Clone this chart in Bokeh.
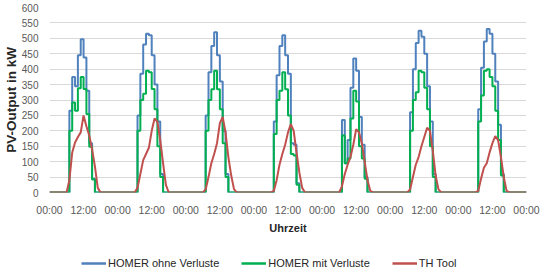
from bokeh.plotting import figure
from bokeh.layouts import column
from bokeh.models import Range1d, FixedTicker, Legend, LegendItem
from bokeh.embed import file_html
from bokeh.resources import INLINE

# hourly values, 7 days x 24 h (+ final midnight point)
homer_ohne = [
    0,0,0,0,0,0,0,265,375,345,445,497,438,330,160,45,0,0,0,0,0,0,0,0,
    0,0,0,0,0,0,0,250,385,480,515,510,445,350,230,60,0,0,0,0,0,0,0,0,
    0,0,0,0,0,0,0,250,390,475,520,445,360,200,60,0,0,0,0,0,0,0,0,0,
    0,0,0,0,0,0,0,230,380,475,510,445,385,160,155,30,0,0,0,0,0,0,0,0,
    0,0,0,0,0,0,0,235,95,170,340,435,395,245,155,50,0,0,0,0,0,0,0,0,
    0,0,0,0,0,0,0,260,400,485,525,505,450,345,230,60,0,0,0,0,0,0,0,0,
    0,0,0,0,0,0,0,270,405,490,530,515,450,360,220,60,0,0,0,0,0,0,0,0,
    0,
]
homer_mit = [
    0,0,0,0,0,0,0,200,292,265,338,375,336,255,148,42,0,0,0,0,0,0,0,0,
    0,0,0,0,0,0,0,200,300,320,395,390,336,270,150,50,0,0,0,0,0,0,0,0,
    0,0,0,0,0,0,0,200,300,335,395,335,270,160,50,0,0,0,0,0,0,0,0,0,
    0,0,0,0,0,0,0,190,300,330,390,335,250,125,120,25,0,0,0,0,0,0,0,0,
    0,0,0,0,0,0,0,185,95,110,240,330,295,150,110,45,0,0,0,0,0,0,0,0,
    0,0,0,0,0,0,0,200,300,325,395,390,340,270,150,50,0,0,0,0,0,0,0,0,
    0,0,0,0,0,0,0,230,315,395,400,375,345,265,170,55,0,0,0,0,0,0,0,0,
    0,
]
th_tool = [
    0,0,0,0,0,0,0,40,130,162,180,195,250,215,185,140,85,15,0,0,0,0,0,0,
    0,0,0,0,0,0,0,15,60,105,125,145,200,240,230,170,95,25,0,0,0,0,0,0,
    0,0,0,0,0,0,0,10,50,95,125,160,225,245,195,115,55,10,0,0,0,0,0,0,
    0,0,0,0,0,0,0,5,40,90,125,155,195,222,200,130,65,15,0,0,0,0,0,0,
    0,0,0,0,0,0,0,20,60,90,115,155,205,195,160,100,40,5,0,0,0,0,0,0,
    0,0,0,0,0,0,0,10,50,90,115,150,180,210,200,135,55,10,0,0,0,0,0,0,
    0,0,0,0,0,0,0,5,45,80,95,130,160,183,170,115,50,5,0,0,0,0,0,0,
    0,
]
hours = list(range(len(homer_ohne)))

x_ticks = [0, 12, 24, 36, 48, 60, 72, 84, 96, 108, 120, 132, 144, 156, 168]
x_tick_labels = ["00:00", "12:00", "00:00", "12:00", "00:00", "12:00", "00:00", "12:00",
                 "00:00", "12:00", "00:00", "12:00", "00:00", "12:00", "00:00"]
y_ticks = [0, 50, 100, 150, 200, 250, 300, 350, 400, 450, 500, 550, 600]

series_names = ["HOMER ohne Verluste", "HOMER mit Verluste", "TH Tool"]
series_values = [homer_ohne, homer_mit, th_tool]
colors = ["#4F81BD", "#00B050", "#C0504D"]

FONT = "Liberation Sans"

p = figure(width=546, height=248, x_range=Range1d(0, 168), y_range=Range1d(0, 600),
           output_backend="svg", toolbar_location=None,
           min_border_left=48, min_border_right=20, min_border_top=7, min_border_bottom=56)
p.outline_line_color = None
p.background_fill_color = "white"
p.border_fill_color = "white"

# axes
p.xaxis.ticker = FixedTicker(ticks=x_ticks)
p.xaxis.major_label_overrides = {t: l for t, l in zip(x_ticks, x_tick_labels)}
p.yaxis.ticker = FixedTicker(ticks=y_ticks)
for ax in (p.xaxis, p.yaxis):
    ax.axis_line_color = None
    ax.major_tick_line_color = None
    ax.minor_tick_line_color = None
    ax.major_tick_out = 0
    ax.major_tick_in = 0
    ax.major_label_text_font = FONT
    ax.major_label_text_color = "#595959"
    ax.axis_label_text_font = FONT
    ax.axis_label_text_font_style = "bold"
    ax.axis_label_text_color = "#262626"
p.xaxis.major_label_text_font_size = "10.5px"
p.yaxis.major_label_text_font_size = "10px"
p.xaxis.major_label_standoff = 11
p.yaxis.major_label_standoff = 11
p.xaxis.axis_label = "Uhrzeit"
p.yaxis.axis_label = "PV-Output in kW"
p.xaxis.axis_label_text_font_size = "11px"
p.yaxis.axis_label_text_font_size = "13.5px"
p.xaxis.axis_label_standoff = 3
p.yaxis.axis_label_standoff = 0

p.xgrid.visible = False
p.ygrid.ticker = FixedTicker(ticks=y_ticks)
p.ygrid.grid_line_color = "#D9D9D9"
p.ygrid.grid_line_width = 1

p.step(hours, homer_ohne, mode="after", line_color=colors[0], line_width=2)
p.step(hours, homer_mit, mode="after", line_color=colors[1], line_width=2)
p.line(hours, th_tool, line_color=colors[2], line_width=2)

# legend strip below the chart (same series, ranges set so only the legend shows)
pl = figure(width=546, height=26, x_axis_type=None, y_axis_type=None,
            output_backend="svg", toolbar_location=None, min_border=0,
            x_range=Range1d(1000, 1001), y_range=Range1d(1000, 1001))
pl.outline_line_color = None
pl.border_fill_color = "white"
pl.background_fill_color = "white"
items = []
for name, vals, c in zip(series_names, series_values, colors):
    r = pl.line(hours, vals, line_color=c, line_width=2.5)
    items.append(LegendItem(label=name, renderers=[r]))
legend = Legend(items=items, orientation="horizontal", location=(32, 4),
                glyph_width=25, glyph_height=14, label_height=14, label_standoff=2,
                spacing=22, padding=0, margin=0,
                label_text_font=FONT, label_text_font_size="11px", label_text_color="#262626",
                border_line_color=None, background_fill_alpha=0)
pl.add_layout(legend, "center")

layout = column(p, pl, spacing=0)
open("out.html", "w").write(file_html(layout, INLINE))
